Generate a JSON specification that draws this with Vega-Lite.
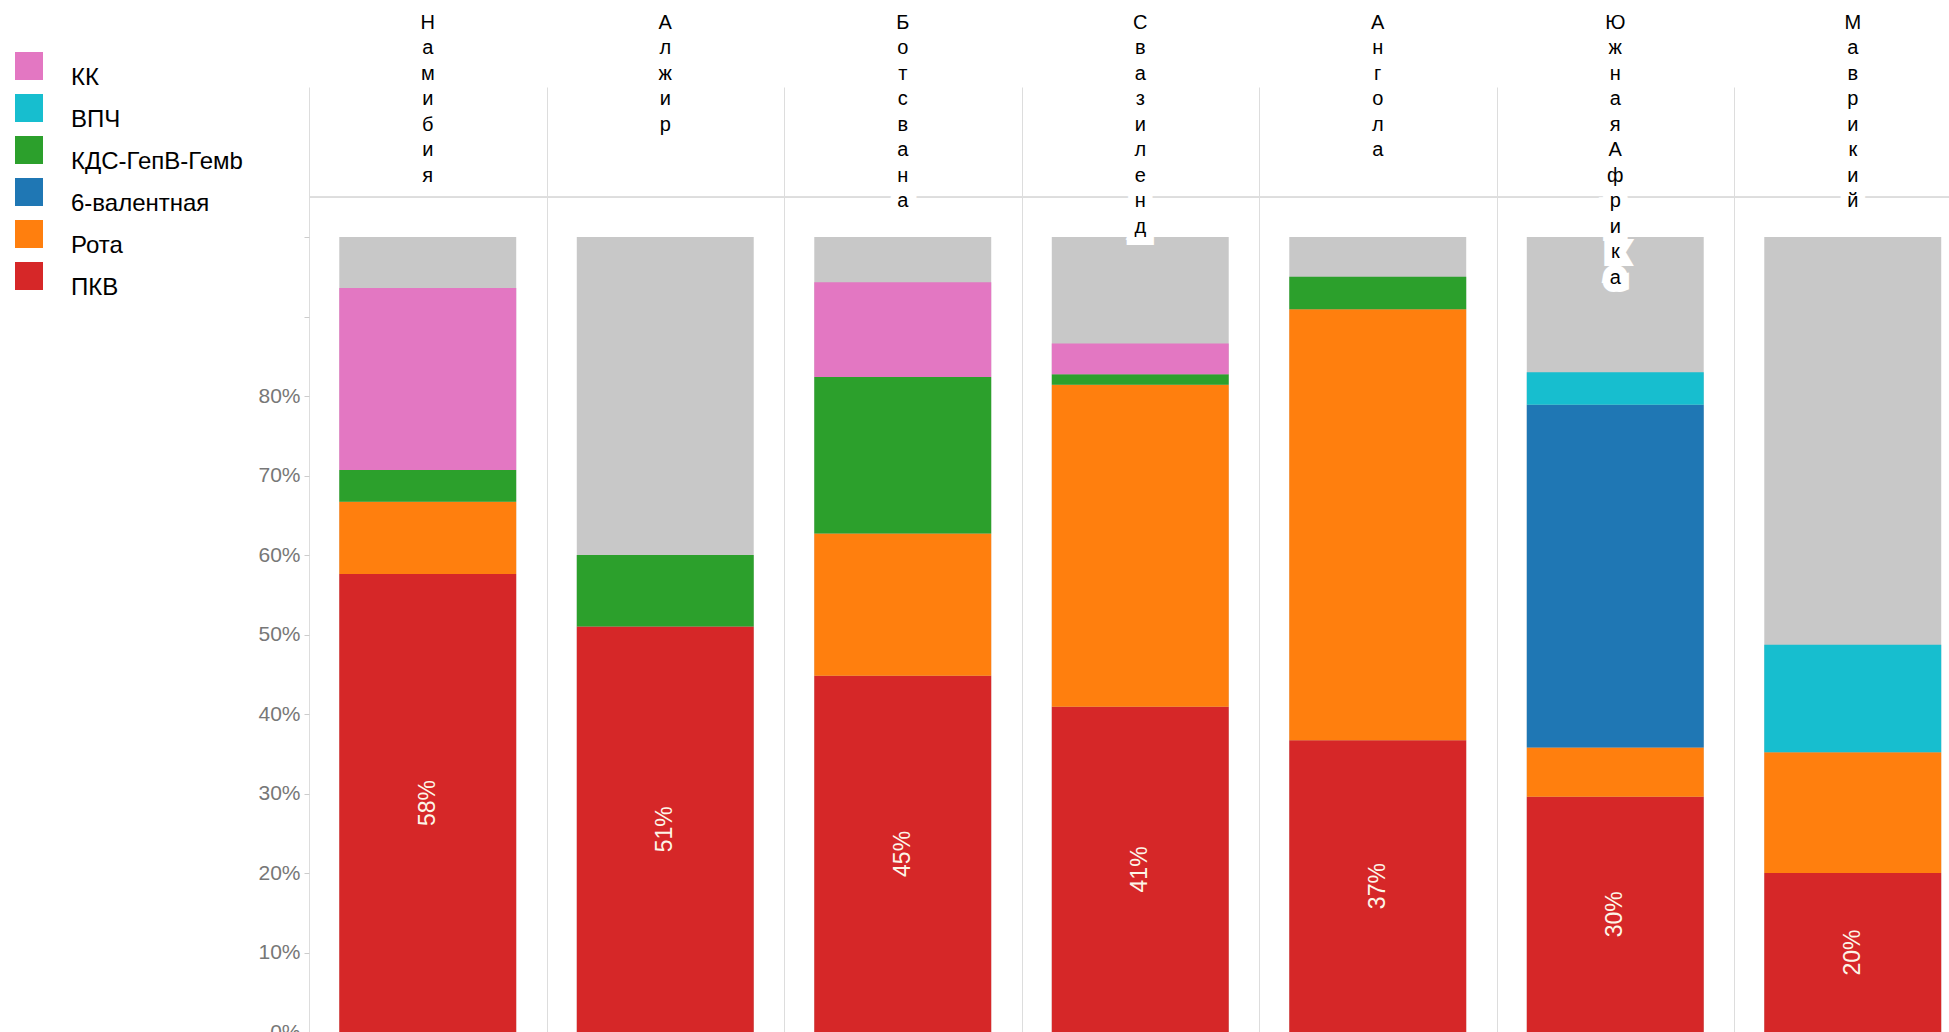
{
  "$schema": "https://vega.github.io/schema/vega-lite/v6.json",
  "width": 1640,
  "height": 945,
  "autosize": {"type": "none"},
  "padding": {"left": 309, "top": 87, "right": 0, "bottom": 0},
  "background": "white",
  "config": {
    "view": {"stroke": null},
    "font": "Liberation Sans",
    "legend": {
      "symbolType": "square",
      "symbolSize": 784,
      "symbolStrokeWidth": 0,
      "labelFontSize": 24,
      "labelFont": "Liberation Sans",
      "labelColor": "#000000",
      "labelBaseline": "top",
      "labelOffset": 28,
      "rowPadding": 4,
      "labelLimit": 400
    }
  },
  "data": {
    "values": [
      {"country": "Намибия", "vaccine": "ПКВ", "value": 0.576},
      {"country": "Намибия", "vaccine": "Рота", "value": 0.091},
      {"country": "Намибия", "vaccine": "КДС-ГепВ-Гемb", "value": 0.040},
      {"country": "Намибия", "vaccine": "КК", "value": 0.229},
      {"country": "Алжир", "vaccine": "ПКВ", "value": 0.510},
      {"country": "Алжир", "vaccine": "КДС-ГепВ-Гемb", "value": 0.090},
      {"country": "Ботсвана", "vaccine": "ПКВ", "value": 0.448},
      {"country": "Ботсвана", "vaccine": "Рота", "value": 0.179},
      {"country": "Ботсвана", "vaccine": "КДС-ГепВ-Гемb", "value": 0.197},
      {"country": "Ботсвана", "vaccine": "КК", "value": 0.119},
      {"country": "Свазиленд", "vaccine": "ПКВ", "value": 0.409},
      {"country": "Свазиленд", "vaccine": "Рота", "value": 0.405},
      {"country": "Свазиленд", "vaccine": "КДС-ГепВ-Гемb", "value": 0.0135},
      {"country": "Свазиленд", "vaccine": "КК", "value": 0.0385},
      {"country": "Ангола", "vaccine": "ПКВ", "value": 0.367},
      {"country": "Ангола", "vaccine": "Рота", "value": 0.542},
      {"country": "Ангола", "vaccine": "КДС-ГепВ-Гемb", "value": 0.041},
      {"country": "Южная Африка", "vaccine": "ПКВ", "value": 0.296},
      {"country": "Южная Африка", "vaccine": "Рота", "value": 0.062},
      {"country": "Южная Африка", "vaccine": "6-валентная", "value": 0.431},
      {"country": "Южная Африка", "vaccine": "ВПЧ", "value": 0.041},
      {"country": "Маврикий", "vaccine": "ПКВ", "value": 0.200},
      {"country": "Маврикий", "vaccine": "Рота", "value": 0.152},
      {"country": "Маврикий", "vaccine": "ВПЧ", "value": 0.135}
    ]
  },
  "encoding": {
    "x": {
      "field": "country",
      "type": "nominal",
      "scale": {
        "type": "band",
        "domain": ["Намибия", "Алжир", "Ботсвана", "Свазиленд", "Ангола", "Южная Африка", "Маврикий"],
        "range": [0, 1662.5],
        "paddingInner": 0,
        "paddingOuter": 0
      },
      "axis": {
        "labels": false,
        "ticks": false,
        "domain": false,
        "grid": true,
        "tickBand": "extent",
        "gridColor": "#dddddd",
        "gridWidth": 1,
        "title": null,
        "orient": "top"
      }
    }
  },
  "layer": [
    {
      "layer": [
        {
          "mark": {"type": "rule", "color": "#dddddd", "strokeWidth": 1},
          "encoding": {"y": {"datum": 1.05}, "x": null}
        },
        {
          "transform": [{"filter": "datum.vaccine === 'ПКВ'"}],
          "mark": {"type": "bar", "width": {"band": 0.745}, "color": "#c8c8c8"},
          "encoding": {
            "y": {"datum": 1},
            "y2": {"datum": 0}
          }
        },
        {
          "transform": [
            {"calculate": "indexof(['ПКВ', 'Рота', '6-валентная', 'КДС-ГепВ-Гемb', 'ВПЧ', 'КК'], datum.vaccine)", "as": "stack_order"}
          ],
          "mark": {"type": "bar", "width": {"band": 0.745}},
          "encoding": {
            "y": {
              "field": "value",
              "type": "quantitative",
              "stack": "zero",
              "scale": {"domain": [0, 1.18868], "nice": false, "zero": true},
              "axis": {
                "values": [0, 0.1, 0.2, 0.3, 0.4, 0.5, 0.6, 0.7, 0.8, 0.9, 1.0],
                "format": ".0%",
                "labelExpr": "datum.value > 0.85 ? '' : datum.label",
                "domain": false,
                "grid": false,
                "ticks": true,
                "tickSize": 5,
                "tickColor": "#cccccc",
                "labelColor": "#777777",
                "labelFontSize": 21,
                "labelFont": "Liberation Sans",
                "labelPadding": 4,
                "title": null
              }
            },
            "order": {"field": "stack_order", "type": "quantitative", "sort": "ascending"},
            "color": {
              "field": "vaccine",
              "type": "nominal",
              "scale": {
                "domain": ["ПКВ", "Рота", "6-валентная", "КДС-ГепВ-Гемb", "ВПЧ", "КК"],
                "range": ["#d62728", "#ff7f0e", "#1f77b4", "#2ca02c", "#17becf", "#e377c2"]
              },
              "legend": {
                "title": null,
                "orient": "none",
                "legendX": -294,
                "legendY": -35,
                "direction": "vertical",
                "values": ["КК", "ВПЧ", "КДС-ГепВ-Гемb", "6-валентная", "Рота", "ПКВ"]
              }
            }
          }
        },
        {
          "transform": [
            {"filter": "datum.vaccine === 'ПКВ'"},
            {"calculate": "split(datum.country, '')", "as": "chars"}
          ],
          "mark": {
            "type": "text",
            "baseline": "top",
            "align": "center",
            "fontSize": 20,
            "lineHeight": 25.5,
            "font": "Liberation Sans",
            "fill": "white",
            "stroke": "white",
            "strokeWidth": 16
          },
          "encoding": {
            "y": {"datum": 1.2818},
            "text": {"field": "chars"}
          }
        },
        {
          "transform": [
            {"filter": "datum.vaccine === 'ПКВ'"},
            {"calculate": "split(datum.country, '')", "as": "chars"}
          ],
          "mark": {
            "type": "text",
            "baseline": "top",
            "align": "center",
            "fontSize": 20,
            "lineHeight": 25.5,
            "font": "Liberation Sans",
            "color": "#000000"
          },
          "encoding": {
            "y": {"datum": 1.2818},
            "text": {"field": "chars"}
          }
        }
      ]
    },
    {
      "transform": [{"filter": "datum.vaccine === 'ПКВ'"}],
      "mark": {
        "type": "text",
        "angle": 270,
        "align": "center",
        "baseline": "middle",
        "fontSize": 23,
        "font": "Liberation Sans",
        "color": "#fdf6e8"
      },
      "encoding": {
        "y": {
          "field": "value",
          "type": "quantitative",
          "scale": {"domain": [0, 2.37736], "nice": false, "zero": true},
          "axis": null
        },
        "text": {"field": "value", "type": "quantitative", "format": ".0%"}
      }
    }
  ],
  "resolve": {"scale": {"y": "independent"}}
}
